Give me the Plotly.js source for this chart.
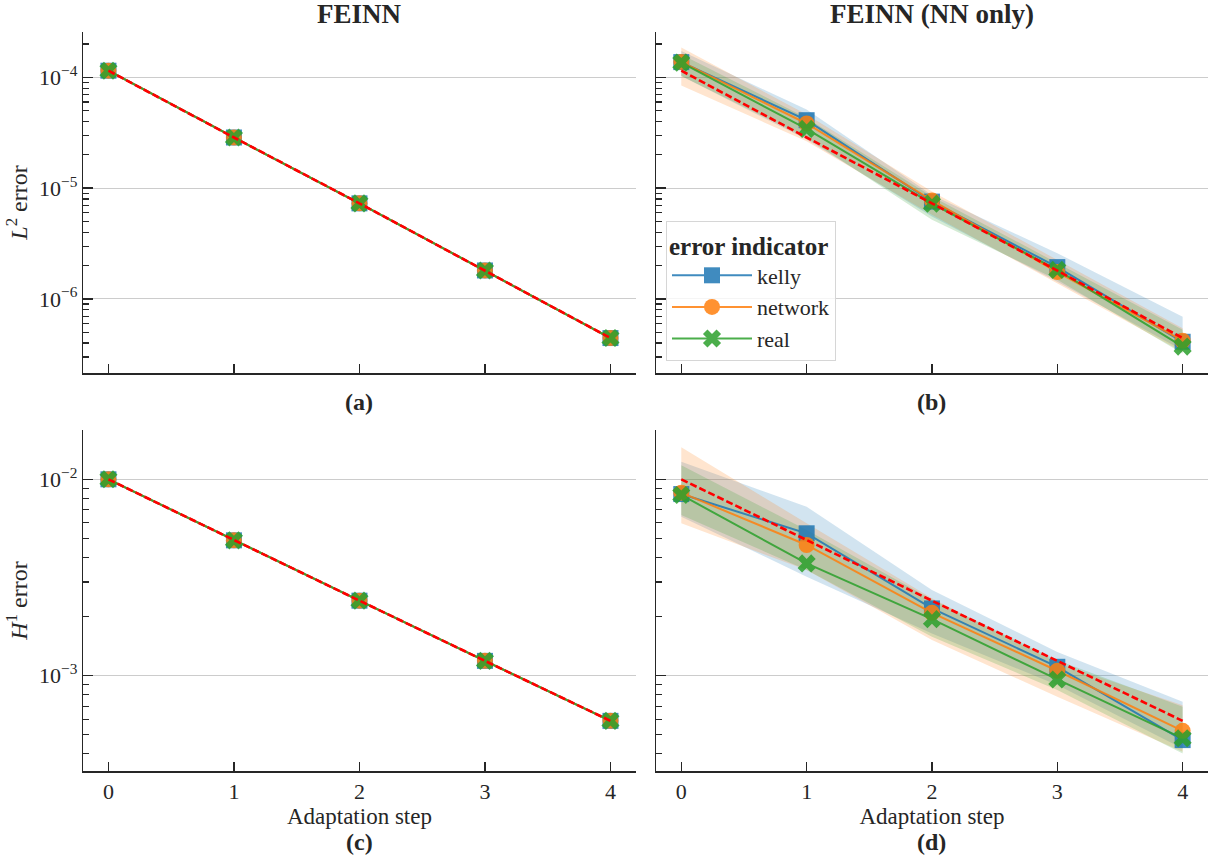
<!DOCTYPE html>
<html>
<head>
<meta charset="utf-8">
<script src="https://cdn.plot.ly/plotly-3.0.1.min.js"></script>
<style>html,body{margin:0;padding:0;background:#fff;}#chart{width:1215px;height:868px;}</style>
</head>
<body>
<div id="chart"></div>
<script>
// ---------- data ----------
const steps = [0, 1, 2, 3, 4];
const stepLabels = ['0', '1', '2', '3', '4'];
const indicators = ['kelly', 'network', 'real'];

// (a) FEINN, L2 error
const l2FeinnKelly   = [1.15e-4, 2.87e-5, 7.3e-6, 1.81e-6, 4.44e-7];
const l2FeinnNetwork = [1.15e-4, 2.87e-5, 7.3e-6, 1.81e-6, 4.44e-7];
const l2FeinnReal    = [1.15e-4, 2.87e-5, 7.3e-6, 1.81e-6, 4.44e-7];
const l2Reference    = [1.15e-4, 2.87e-5, 7.3e-6, 1.81e-6, 4.44e-7];

// (b) FEINN (NN only), L2 error: mean, lower, upper
const l2NnKelly     = [1.375e-4, 4.11e-5, 7.57e-6, 1.94e-6, 4.11e-7];
const l2NnKellyLo   = [1.03e-4, 2.75e-5, 5.56e-6, 1.43e-6, 3.45e-7];
const l2NnKellyHi   = [1.73e-4, 5.13e-5, 8.7e-6, 2.59e-6, 6.9e-7];
const l2NnNetwork   = [1.38e-4, 3.84e-5, 7.76e-6, 1.75e-6, 4.2e-7];
const l2NnNetworkLo = [8.47e-5, 2.65e-5, 5.75e-6, 1.39e-6, 3.33e-7];
const l2NnNetworkHi = [1.86e-4, 4.62e-5, 9.35e-6, 2.25e-6, 5.43e-7];
const l2NnReal      = [1.36e-4, 3.43e-5, 7.25e-6, 1.83e-6, 3.72e-7];
const l2NnRealLo    = [1.03e-4, 2.85e-5, 5.19e-6, 1.49e-6, 3.22e-7];
const l2NnRealHi    = [1.61e-4, 4.31e-5, 8.43e-6, 2.1e-6, 5.28e-7];

// (c) FEINN, H1 error
const h1FeinnKelly   = [1.0e-2, 4.89e-3, 2.41e-3, 1.19e-3, 5.89e-4];
const h1FeinnNetwork = [1.0e-2, 4.89e-3, 2.41e-3, 1.19e-3, 5.89e-4];
const h1FeinnReal    = [1.0e-2, 4.89e-3, 2.41e-3, 1.19e-3, 5.89e-4];
const h1Reference    = [1.0e-2, 4.89e-3, 2.41e-3, 1.19e-3, 5.89e-4];

// (d) FEINN (NN only), H1 error
const h1NnKelly     = [8.41e-3, 5.31e-3, 2.2e-3, 1.11e-3, 4.7e-4];
const h1NnKellyLo   = [6.45e-3, 3.19e-3, 1.64e-3, 8.96e-4, 4.26e-4];
const h1NnKellyHi   = [1.23e-2, 7.25e-3, 2.73e-3, 1.32e-3, 7.36e-4];
const h1NnNetwork   = [8.55e-3, 4.63e-3, 2.09e-3, 1.06e-3, 5.24e-4];
const h1NnNetworkLo = [5.97e-3, 3.45e-3, 1.52e-3, 7.81e-4, 4.1e-4];
const h1NnNetworkHi = [1.456e-2, 5.97e-3, 2.48e-3, 1.16e-3, 7.08e-4];
const h1NnReal      = [8.32e-3, 3.73e-3, 1.94e-3, 9.57e-4, 4.8e-4];
const h1NnRealLo    = [6.58e-3, 3.45e-3, 1.58e-3, 8.45e-4, 4.02e-4];
const h1NnRealHi    = [1.18e-2, 5.52e-3, 2.44e-3, 1.2e-3, 6.95e-4];

// tick labels
const l2TickVals = [1e-6, 1e-5, 1e-4];
const l2TickText = ['10<sup>−6</sup>', '10<sup>−5</sup>', '10<sup>−4</sup>'];
const h1TickVals = [1e-3, 1e-2];
const h1TickText = ['10<sup>−3</sup>', '10<sup>−2</sup>'];
const l2MinorVals = [3e-7, 4e-7, 5e-7, 6e-7, 7e-7, 8e-7, 9e-7,
                     2e-6, 3e-6, 4e-6, 5e-6, 6e-6, 7e-6, 8e-6, 9e-6,
                     2e-5, 3e-5, 4e-5, 5e-5, 6e-5, 7e-5, 8e-5, 9e-5, 2e-4];
const h1MinorVals = [4e-4, 5e-4, 6e-4, 7e-4, 8e-4, 9e-4,
                     2e-3, 3e-3, 4e-3, 5e-3, 6e-3, 7e-3, 8e-3, 9e-3];

const panelTitles = ['<b>FEINN</b>', '<b>FEINN (NN only)</b>'];
const panelLabels = ['<b>(a)</b>', '<b>(b)</b>', '<b>(c)</b>', '<b>(d)</b>'];

// ---------- style ----------
const FONT = 'Liberation Serif, Times New Roman, serif';
const INK = '#262626';
const colors = {kelly: '#1f77b4', network: '#ff7f0e', real: '#2ca02c'};
const bandFill = {kelly: 'rgba(31,119,180,0.2)', network: 'rgba(255,127,14,0.2)', real: 'rgba(44,160,44,0.2)'};
const symbols = {kelly: 'square', network: 'circle', real: 'x'};

const traces = [];

function band(lo, hi, name, xa, ya) {
  traces.push({x: steps, y: hi, xaxis: xa, yaxis: ya, mode: 'lines', line: {width: 0, color: colors[name]},
               showlegend: false, hoverinfo: 'skip'});
  traces.push({x: steps, y: lo, xaxis: xa, yaxis: ya, mode: 'lines', line: {width: 0, color: colors[name]},
               fill: 'tonexty', fillcolor: bandFill[name], showlegend: false, hoverinfo: 'skip'});
}
function series(y, name, xa, ya, legend) {
  traces.push({x: steps, y: y, xaxis: xa, yaxis: ya, mode: 'lines+markers', name: name,
               opacity: 0.85, line: {color: colors[name], width: 2},
               marker: {symbol: symbols[name], size: 16, color: colors[name], line: {width: 0}},
               showlegend: legend});
}
function ref(y, xa, ya) {
  traces.push({x: steps, y: y, xaxis: xa, yaxis: ya, mode: 'lines', line: {color: '#ff0000', width: 2.6, dash: '7px,3px'},
               showlegend: false, hoverinfo: 'skip'});
}

// (a)
series(l2FeinnKelly, 'kelly', 'x', 'y', false);
series(l2FeinnNetwork, 'network', 'x', 'y', false);
series(l2FeinnReal, 'real', 'x', 'y', false);
ref(l2Reference, 'x', 'y');
// (b)
band(l2NnKellyLo, l2NnKellyHi, 'kelly', 'x2', 'y2');
band(l2NnNetworkLo, l2NnNetworkHi, 'network', 'x2', 'y2');
band(l2NnRealLo, l2NnRealHi, 'real', 'x2', 'y2');
series(l2NnKelly, 'kelly', 'x2', 'y2', true);
series(l2NnNetwork, 'network', 'x2', 'y2', true);
series(l2NnReal, 'real', 'x2', 'y2', true);
ref(l2Reference, 'x2', 'y2');
// (c)
series(h1FeinnKelly, 'kelly', 'x3', 'y3', false);
series(h1FeinnNetwork, 'network', 'x3', 'y3', false);
series(h1FeinnReal, 'real', 'x3', 'y3', false);
ref(h1Reference, 'x3', 'y3');
// (d)
band(h1NnKellyLo, h1NnKellyHi, 'kelly', 'x4', 'y4');
band(h1NnNetworkLo, h1NnNetworkHi, 'network', 'x4', 'y4');
band(h1NnRealLo, h1NnRealHi, 'real', 'x4', 'y4');
series(h1NnKelly, 'kelly', 'x4', 'y4', false);
series(h1NnNetwork, 'network', 'x4', 'y4', false);
series(h1NnReal, 'real', 'x4', 'y4', false);
ref(h1Reference, 'x4', 'y4');

const tickFont = {family: FONT, size: 22, color: INK};
function xAxis(domain, anchor, labels, title) {
  return {domain: domain, anchor: anchor, range: [-0.2, 4.2], tickmode: 'array', tickvals: steps,
          ticktext: stepLabels, showticklabels: labels, ticks: 'inside', ticklen: 9, tickwidth: 1.5, tickcolor: INK,
          showline: true, linecolor: INK, linewidth: 1.6, showgrid: false, zeroline: false, tickfont: tickFont,
          title: title ? {text: 'Adaptation step', font: {family: FONT, size: 23, color: INK}, standoff: 0} : {text: ''}};
}
function yAxis(domain, anchor, range, tv, tt, minor, labels, title) {
  return {domain: domain, anchor: anchor, type: 'log', range: range, tickmode: 'array', tickvals: tv, ticktext: tt,
          showticklabels: labels, ticks: 'inside', ticklen: 9.5, tickwidth: 1.5, tickcolor: INK,
          minor: {tickmode: 'array', tickvals: minor, ticks: 'inside', ticklen: 6, tickwidth: 1.2, tickcolor: INK, showgrid: false},
          showline: true, linecolor: INK, linewidth: 1.6, showgrid: true, gridcolor: '#cccccc', gridwidth: 1,
          zeroline: false, tickfont: tickFont,
          title: title ? {text: title, font: {family: FONT, size: 24, color: INK}, standoff: 4} : {text: ''}};
}

const xL = [0.0686, 0.5231], xR = [0.5401, 0.9940];
const yT = [0.5699, 0.9635], yB = [0.1118, 0.5046];
const l2Range = [-6.671, -3.587], h1Range = [-3.485, -1.749];

const annFont = {family: FONT, size: 24, color: INK};
const titleFont = {family: FONT, size: 27, color: INK};
function ann(text, x, ypx, font) {
  return {text: text, x: x, y: 1 - ypx / 868, xref: 'paper', yref: 'paper', xanchor: 'center', yanchor: 'middle',
          showarrow: false, font: font};
}
const cL = (xL[0] + xL[1]) / 2, cR = (xR[0] + xR[1]) / 2;
const annotations = [
  ann(panelTitles[0], cL, 14, titleFont),
  ann(panelTitles[1], cR, 14, titleFont),
  ann(panelLabels[0], cL, 402, annFont),
  ann(panelLabels[1], cR, 402, annFont),
  ann(panelLabels[2], cL, 842, annFont),
  ann(panelLabels[3], cR, 842, annFont)
];

const layout = {
  width: 1215, height: 868,
  margin: {l: 0, r: 0, t: 0, b: 0},
  paper_bgcolor: '#ffffff', plot_bgcolor: '#ffffff',
  font: {family: FONT, color: INK},
  showlegend: true,
  legend: {x: 666 / 1215, y: 1 - 221 / 868, xanchor: 'left', yanchor: 'top',
           bgcolor: 'rgba(255,255,255,0.8)', bordercolor: '#d6d6d6', borderwidth: 1,
           traceorder: 'normal', tracegroupgap: 0, itemwidth: 80,
           font: {family: FONT, size: 22, color: INK},
           title: {text: '<b>error indicator</b>', font: {family: FONT, size: 25, color: INK}}},
  xaxis: xAxis(xL, 'y', false, false),
  yaxis: yAxis(yT, 'x', l2Range, l2TickVals, l2TickText, l2MinorVals, true, '<i>L</i><sup>2</sup> error'),
  xaxis2: xAxis(xR, 'y2', false, false),
  yaxis2: yAxis(yT, 'x2', l2Range, l2TickVals, l2TickText, l2MinorVals, false, null),
  xaxis3: xAxis(xL, 'y3', true, true),
  yaxis3: yAxis(yB, 'x3', h1Range, h1TickVals, h1TickText, h1MinorVals, true, '<i>H</i><sup>1</sup> error'),
  xaxis4: xAxis(xR, 'y4', true, true),
  yaxis4: yAxis(yB, 'x4', h1Range, h1TickVals, h1TickText, h1MinorVals, false, null),
  annotations: annotations
};

Plotly.newPlot('chart', traces, layout, {displayModeBar: false, staticPlot: true});
</script>
</body>
</html>
